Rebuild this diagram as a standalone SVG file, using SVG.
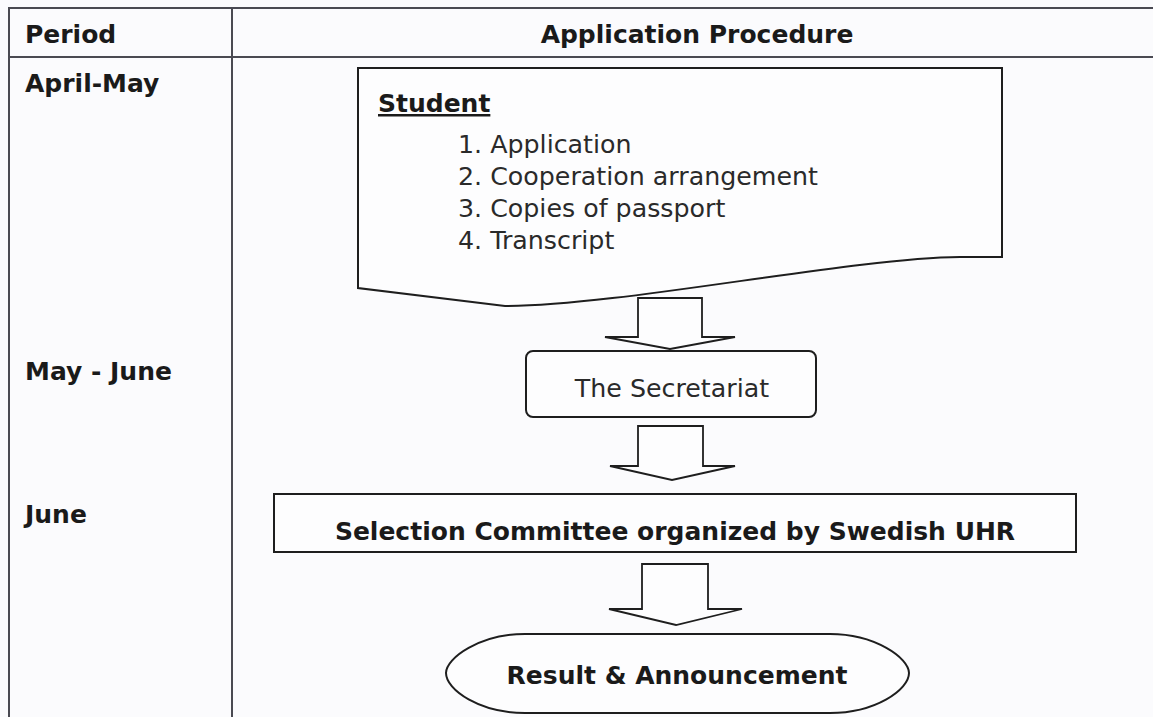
<svg xmlns="http://www.w3.org/2000/svg" width="1153" height="717" viewBox="0 0 1153 717">
<style>
.grid{stroke:#4a4a52;stroke-width:2;fill:none}
.shape{fill:#fdfdfe;stroke:#1e1e1e;stroke-width:2;stroke-linejoin:miter}
.arrow{fill:#fdfdfe;stroke:#1e1e1e;stroke-width:1.8;stroke-linejoin:miter}
.b{font-family:"DejaVu Sans",Verdana,sans-serif;font-weight:bold;font-size:25px;fill:#1a1a1a}
.r{font-family:"DejaVu Sans",Verdana,sans-serif;font-size:25.3px;fill:#2a2a2a}
</style>
<rect x="0" y="0" width="1153" height="717" fill="#fbfbfd"/>
<g id="table">
<line class="grid" x1="8" y1="8" x2="1153" y2="8"/>
<line class="grid" x1="8" y1="57" x2="1153" y2="57"/>
<line class="grid" x1="9" y1="7" x2="9" y2="717"/>
<line class="grid" x1="232" y1="7" x2="232" y2="717"/>
<text class="b" x="25" y="43">Period</text>
<text class="b" x="697" y="43" text-anchor="middle">Application Procedure</text>
<text class="b" x="25" y="92">April-May</text>
<text class="b" x="25" y="380" font-size="25.8">May - June</text>
<text class="b" x="25" y="523">June</text>
</g>
<g id="student">
<path class="shape" d="M358,68 L1002,68 L1002,257 L960,257 C850,258 620,306 505,306 L358,288 Z"/>
<text class="b" x="378" y="112" text-decoration="underline">Student</text>
<text class="r" x="458" y="153">1. Application</text>
<text class="r" x="458" y="185">2. Cooperation arrangement</text>
<text class="r" x="458" y="217">3. Copies of passport</text>
<text class="r" x="458" y="249">4. Transcript</text>
</g>
<g id="secretariat">
<rect class="shape" x="526" y="351" width="290" height="66" rx="7"/>
<text class="r" x="672" y="397" text-anchor="middle">The Secretariat</text>
</g>
<g id="committee">
<rect class="shape" x="274" y="494" width="802" height="58"/>
<text class="b" x="675" y="540" text-anchor="middle" font-size="26.2">Selection Committee organized by Swedish UHR</text>
</g>
<g id="result">
<path class="shape" d="M525,634 L830,634 C875,634 909,658 909,673 C909,690 875,713 830,713 L525,713 C480,713 446,690 446,673 C446,658 480,634 525,634 Z"/>
<text class="b" x="677" y="684" text-anchor="middle" font-size="26.2">Result &amp; Announcement</text>
</g>
<g id="connectors">
<path class="arrow" d="M638,298 L702,298 L702,337 L735,337 L670,349 L605,337 L638,337 Z"/>
<path class="arrow" d="M638,426 L703,426 L703,466 L735,466 L672,480 L610,466 L638,466 Z"/>
<path class="arrow" d="M642,564 L708,564 L708,609 L742,609 L676,625 L609,609 L642,609 Z"/>
</g>
</svg>
